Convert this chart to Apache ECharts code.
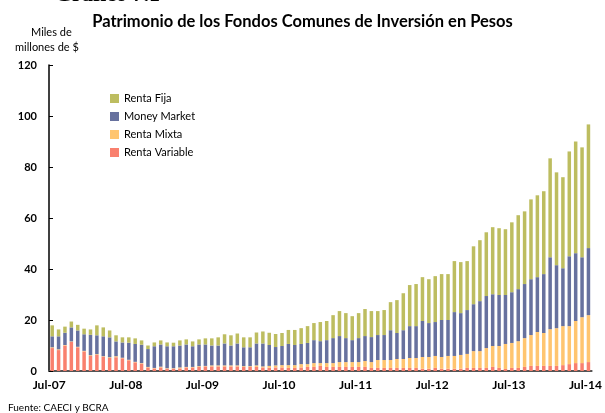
<!DOCTYPE html>
<html>
<head>
<meta charset="utf-8">
<script src="https://cdn.jsdelivr.net/npm/echarts@6/dist/echarts.min.js"></script>
<style>
  html, body { margin: 0; padding: 0; background: #fff; }
  #main { width: 605px; height: 413px; }
</style>
</head>
<body>
<div id="main"></div>
<script>
var chartDom = document.getElementById('main');
var myChart = echarts.init(chartDom);
var option;

// meses desde Jul-07 hasta Jul-14
var monthNames = ['Ene', 'Feb', 'Mar', 'Abr', 'May', 'Jun', 'Jul', 'Ago', 'Sep', 'Oct', 'Nov', 'Dic'];
var categories = [];
for (var i = 0; i < 85; i++) {
    var m = (6 + i) % 12;
    var y = 7 + Math.floor((6 + i) / 12);
    categories.push(monthNames[m] + '-' + (y < 10 ? '0' + y : y));
}

var rentaVariable = [9.0, 8.2, 10.0, 11.4, 9.3, 7.7, 5.9, 6.3, 5.6, 5.1, 5.4, 5.0, 4.2, 3.4, 2.9, 1.4, 1.0, 1.4,
    0.9, 0.9, 1.0, 1.4, 1.4, 1.6, 1.8, 1.8, 1.8, 1.8, 1.8, 1.8, 1.6, 1.6, 1.6, 1.4, 1.3,
    1.4, 1.4, 1.2, 1.2, 1.4, 1.6, 1.6, 2.0, 1.6, 1.6, 1.6, 1.6, 1.6, 1.6, 1.6, 1.2, 1.2,
    1.2, 1.2, 1.2, 1.2, 1.2, 1.2, 0.9, 0.9, 1.2, 0.9, 0.9, 0.9, 0.9, 1.2, 1.2, 1.2, 1.2,
    1.6, 1.2, 0.8, 1.2, 1.2, 1.6, 2.0, 2.0, 2.0, 2.0, 2.0, 2.3, 2.7, 3.1, 3.1, 3.5];
var rentaMixta = [0.3, 0.3, 0.2, 0.2, 0.2, 0.2, 0.3, 0.3, 0.2, 0.3, 0.4, 0.2, 0.2, 0.2, 0.2, 0.2, 0.2, 0.3,
    0.2, 0.2, 0.4, 0.2, 0.2, 0.3, 0.2, 0.4, 0.4, 0.4, 0.4, 0.4, 0.3, 0.3, 0.6, 0.4, 0.7,
    0.8, 0.9, 1.1, 1.1, 1.3, 1.1, 1.5, 1.1, 1.5, 1.5, 1.9, 1.9, 1.9, 1.9, 2.3, 2.3, 3.1,
    3.1, 3.1, 3.5, 3.5, 3.9, 3.9, 4.6, 4.6, 4.7, 4.6, 5.0, 5.0, 5.4, 5.5, 6.6, 6.6, 7.8,
    8.2, 8.6, 9.8, 9.8, 10.5, 11.3, 12.1, 13.3, 12.9, 14.4, 14.8, 15.3, 14.9, 16.5, 18.0, 18.4];
var moneyMarket = [4.3, 5.1, 4.8, 5.5, 6.4, 6.5, 8.0, 7.4, 7.8, 7.8, 5.8, 6.0, 6.7, 7.0, 7.2, 7.0, 8.5, 8.7,
    8.6, 8.6, 8.6, 8.8, 8.1, 8.5, 8.4, 7.8, 7.8, 8.6, 7.8, 8.6, 7.4, 7.4, 8.6, 9.0, 8.2,
    7.2, 7.5, 8.3, 7.9, 7.9, 8.3, 9.0, 8.6, 9.0, 9.8, 10.2, 9.4, 8.6, 9.4, 9.8, 9.8, 9.8,
    9.8, 11.7, 10.2, 11.3, 12.5, 12.5, 14.1, 13.3, 13.3, 14.5, 14.1, 17.2, 16.4, 17.2, 18.4, 19.6, 20.4,
    20.3, 20.0, 19.2, 19.9, 20.4, 21.2, 21.9, 21.5, 23.1, 28.2, 24.7, 22.7, 27.4, 26.6, 23.5, 26.3];
var rentaFija = [4.3, 2.7, 2.4, 2.3, 2.2, 2.2, 2.1, 3.9, 3.5, 2.7, 2.4, 2.0, 2.1, 2.2, 1.7, 1.4, 1.5, 1.6,
    1.5, 1.4, 2.0, 2.0, 1.9, 2.0, 2.4, 2.8, 3.2, 3.6, 4.0, 3.9, 3.9, 3.9, 4.3, 4.7, 4.8,
    5.1, 5.1, 5.5, 5.9, 6.2, 6.6, 6.7, 7.5, 7.5, 9.0, 9.8, 9.8, 9.4, 9.8, 10.6, 10.2, 9.4,
    9.8, 11.0, 12.9, 14.5, 16.1, 16.5, 17.2, 17.2, 18.0, 18.0, 18.0, 20.0, 20.0, 19.2, 22.7, 23.9, 25.0,
    26.3, 26.2, 25.8, 27.4, 29.0, 28.5, 31.3, 32.1, 32.5, 38.8, 36.4, 35.7, 41.1, 43.8, 43.1, 48.5];

var seriesNames = ['Renta Variable', 'Renta Mixta', 'Money Market', 'Renta Fija'];
var seriesData = [rentaVariable, rentaMixta, moneyMarket, rentaFija];
var seriesColors = ['#F9806E', '#FFC570', '#67719E', '#BDBD60'];

var seriesList = [];
for (var s = 0; s < seriesNames.length; s++) {
    seriesList.push({
        name: seriesNames[s],
        type: 'bar',
        stack: 'total',
        data: seriesData[s],
        barCategoryGap: '45%',
        itemStyle: { color: seriesColors[s] },
        animation: false
    });
}

var font = 'Lato, "DejaVu Sans", sans-serif';

option = {
    animation: false,
    textStyle: { fontFamily: font },
    title: {
        text: 'Patrimonio de los Fondos Comunes de Inversión en Pesos',
        left: 'center',
        top: 8,
        textStyle: { fontFamily: font, fontSize: 16.5, fontWeight: 'bold', color: '#000' }
    },
    legend: {
        orient: 'vertical',
        left: 105,
        top: 88,
        itemWidth: 9,
        itemHeight: 9,
        itemGap: 7,
        icon: 'rect',
        data: ['Renta Fija', 'Money Market', 'Renta Mixta', 'Renta Variable'],
        textStyle: { fontFamily: font, fontSize: 11, color: '#000' }
    },
    graphic: [
        { type: 'text', left: 55, top: -16, style: { text: 'Gráfico 7.1', fontFamily: '"Liberation Serif", serif', fontSize: 22, fontWeight: 'bold', fill: '#000' } },
        { type: 'text', left: 31, top: 27, style: { text: 'Miles de', fontFamily: font, fontSize: 11, fill: '#000' } },
        { type: 'text', left: 15, top: 42, style: { text: 'millones de $', fontFamily: font, fontSize: 11, fill: '#000' } },
        { type: 'text', left: 8, top: 403, style: { text: 'Fuente: CAECI y BCRA', fontFamily: font, fontSize: 10, fill: '#000' } }
    ],
    grid: { left: 49, right: 12, top: 65, bottom: 42 },
    xAxis: {
        type: 'category',
        data: categories,
        boundaryGap: true,
        axisLine: { lineStyle: { color: '#555', width: 2 } },
        axisTick: {
            length: 4,
            interval: function (idx) { return idx % 12 === 0; },
            lineStyle: { color: '#333' }
        },
        axisLabel: {
            interval: function (idx) { return idx % 12 === 0; },
            color: '#000',
            fontFamily: font,
            fontSize: 12,
            fontWeight: 'bold',
            margin: 8,
            padding: [0, 6, 0, 0]
        }
    },
    yAxis: {
        type: 'value',
        min: 0,
        max: 120,
        interval: 20,
        axisLine: { show: true, lineStyle: { color: '#000', width: 1.5 } },
        axisTick: { show: true, inside: true, length: 4, lineStyle: { color: '#000' } },
        splitLine: { show: false },
        axisLabel: { color: '#000', fontFamily: font, fontSize: 11, fontWeight: 'bold', margin: 12 }
    },
    series: seriesList
};

option && myChart.setOption(option);
</script>
</body>
</html>
